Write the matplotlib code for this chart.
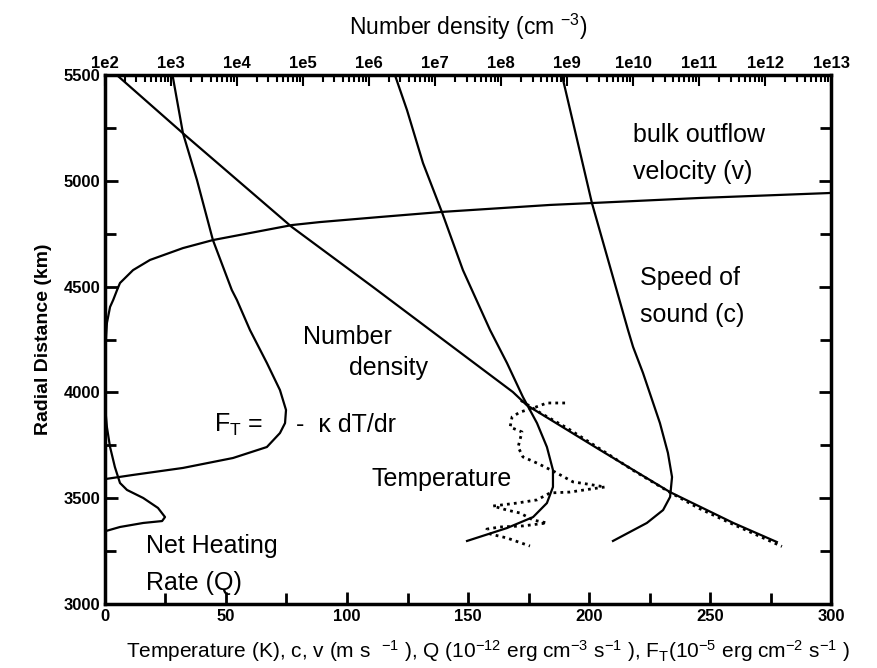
import matplotlib
matplotlib.use("Agg")
import matplotlib.pyplot as plt
from matplotlib import font_manager
import numpy as np
from matplotlib.ticker import MultipleLocator, LogLocator, FixedLocator, FixedFormatter, NullFormatter

names = set(f.name for f in font_manager.fontManager.ttflist)
narrow = 'Liberation Sans'
for cand in ['Liberation Sans Narrow', 'DejaVu Sans Condensed']:
    if cand in names:
        narrow = cand
        break

plt.rcParams['font.family'] = [narrow, 'Liberation Sans', 'DejaVu Sans']
plt.rcParams['mathtext.fontset'] = 'custom'
plt.rcParams['mathtext.rm'] = narrow
plt.rcParams['mathtext.it'] = narrow

# temperature model (K)
temp_x = [119.8, 124.8, 131.4, 139.2, 147.9, 159.1, 166.1, 172.7, 178.5, 182.6, 185.1, 185.1,
          182.6, 176.9, 166.1, 149.6]
temp_y = [5500, 5334, 5084, 4853, 4578, 4295, 4139, 3978, 3855, 3742, 3633, 3553,
          3477, 3411, 3359, 3298]

# temperature observations (dotted)
tobs_x = [190.1, 182.6, 176.9, 171.5, 168.2, 167.4, 172.3, 170.7, 172.7, 178.5, 185.9, 193.4,
          199.2, 206.6, 200.4, 192.1, 183.9, 178.5, 170.2, 160.3, 166.1, 171.5, 176.9, 182.6,
          172.7, 163.2, 157.8, 159.1, 166.1, 175.6]
tobs_y = [3950, 3950, 3926, 3907, 3884, 3836, 3813, 3742, 3695, 3666, 3624, 3577,
          3567, 3553, 3543, 3529, 3525, 3492, 3477, 3463, 3444, 3430, 3397, 3383,
          3369, 3364, 3354, 3331, 3312, 3274]

# speed of sound c (m/s)
c_x = [188.9, 189.3, 201.2, 216.1, 218.2, 222.3, 229.3, 232.6, 234.3, 233.5, 230.6, 223.9, 209.9]
c_y = [5500, 5476, 4895, 4295, 4215, 4092, 3855, 3714, 3600, 3506, 3444, 3383, 3298]

# bulk outflow velocity v (m/s)
v_x = [0.2, 0.5, 0.8, 2.1, 3.4, 5.0, 6.2, 11.6, 18.6, 32.2, 44.6, 77.3, 88.8, 113.6,
       139.2, 183.9, 201.2, 245.9, 298.7, 300]
v_y = [4200, 4271, 4328, 4404, 4437, 4484, 4517, 4578, 4626, 4682, 4720, 4791, 4805, 4829,
       4853, 4886, 4895, 4919, 4942, 4943]

# conductive heat flux F_T
ft_x = [27.9, 32.2, 38.0, 44.6, 52.4, 54.5, 59.9, 66.9, 72.3, 74.8, 74.4, 72.3, 66.9,
        52.9, 32.2, 11.6, 0.4]
ft_y = [5500, 5226, 5004, 4720, 4484, 4437, 4295, 4139, 4011, 3917, 3855, 3808, 3742,
        3690, 3643, 3610, 3591]

# net heating rate Q
q_x = [0.3, 0.8, 2.1, 4.1, 6.2, 9.1, 15.8, 21.9, 24.8, 23.6, 15.8, 6.2, 0.4]
q_y = [3900, 3836, 3742, 3647, 3572, 3539, 3501, 3454, 3411, 3392, 3383, 3364, 3345]

# number density (cm^-3), top axis
dens_x = [1.51e2, 1.62e3, 6.76e4, 1.15e6, 1.7e7, 1.51e8, 2.45e8, 3.16e9, 3.63e10, 3.31e11, 1.51e12]
dens_y = [5500, 5217, 4782, 4498, 4224, 4002, 3940, 3728, 3529, 3383, 3293]
dobs_x = [2.0e8, 4.0e8, 1.0e9, 3.2e9, 1.0e10, 3.6e10, 1.0e11, 3.2e11, 8.0e11, 1.8e12]
dobs_y = [3962, 3902, 3832, 3732, 3632, 3528, 3452, 3378, 3322, 3272]

top_ticks = [1e2, 1e3, 1e4, 1e5, 1e6, 1e7, 1e8, 1e9, 1e10, 1e11, 1e12, 1e13]
top_labels = ['1e2', '1e3', '1e4', '1e5', '1e6', '1e7', '1e8', '1e9', '1e10', '1e11', '1e12', '1e13']

fig = plt.figure(figsize=(8.77, 6.68), dpi=100)
ax = fig.add_axes([0.1197, 0.0958, 0.8279, 0.7919])

lw = 1.6
ax.plot(temp_x, temp_y, color='black', lw=lw)
ax.plot(tobs_x, tobs_y, color='black', lw=2, ls=(0, (1, 1.5)))
ax.plot(c_x, c_y, color='black', lw=lw)
ax.plot(v_x, v_y, color='black', lw=lw)
ax.plot(ft_x, ft_y, color='black', lw=lw)
ax.plot(q_x, q_y, color='black', lw=lw)

ax.set_xlim(0, 300)
ax.set_ylim(3000, 5500)
ax.xaxis.set_major_locator(MultipleLocator(50))
ax.xaxis.set_minor_locator(MultipleLocator(25))
ax.yaxis.set_major_locator(MultipleLocator(500))
ax.yaxis.set_minor_locator(MultipleLocator(250))
ax.tick_params(which='both', direction='in', right=True, top=False, width=2,
               labelsize=12)
ax.tick_params(which='major', length=9)
ax.tick_params(which='minor', length=8)
for lab in ax.get_xticklabels() + ax.get_yticklabels():
    lab.set_fontweight('bold')
for s in ax.spines.values():
    s.set_linewidth(2.5)

ax2 = ax.twiny()
ax2.set_xscale('log')
ax2.set_xlim(1e2, 1e13)
ax2.plot(dens_x, dens_y, color='black', lw=lw)
ax2.plot(dobs_x, dobs_y, color='black', lw=2, ls=(0, (1, 1.5)))
ax2.xaxis.set_major_locator(FixedLocator(top_ticks))
ax2.xaxis.set_major_formatter(FixedFormatter(top_labels))
ax2.xaxis.set_minor_locator(LogLocator(base=10, subs=np.arange(2, 10), numticks=50))
ax2.xaxis.set_minor_formatter(NullFormatter())
ax2.tick_params(which='both', direction='in', width=1.5, labelsize=12, pad=3)
ax2.tick_params(which='major', length=8)
ax2.tick_params(which='minor', length=5)
for lab in ax2.get_xticklabels():
    lab.set_fontweight('bold')
ax2.set_ylim(3000, 5500)

ax.set_ylabel('Radial Distance (km)', fontsize=14, fontweight='bold', labelpad=8,
              family=['Liberation Sans', 'DejaVu Sans'])
ax.set_xlabel('Temperature (K), c, v (m s  $^{-1}$ ), Q (10$^{-12}$ erg cm$^{-3}$ s$^{-1}$ ), '
              'F$_\\mathrm{T}$(10$^{-5}$ erg cm$^{-2}$ s$^{-1}$ )', fontsize=15, labelpad=10)
ax.xaxis.label.set_x(0.527)
ax2.set_xlabel('Number density (cm $^{-3}$)', fontsize=16.5, labelpad=15)

tf = dict(fontsize=18, family=['Liberation Sans', 'DejaVu Sans'], va='center', ha='left')
ax.text(218, 5216, 'bulk outflow', **tf)
ax.text(218, 5041, 'velocity (v)', **tf)
ax.text(221, 4541, 'Speed of', **tf)
ax.text(221, 4366, 'sound (c)', **tf)
ax.text(82, 4262, 'Number', **tf)
ax.text(101, 4115, 'density', **tf)
ax.text(45, 3848, 'F$_\\mathrm{T}$ =', **tf)
ax.text(79, 3848, '-  \u03ba dT/dr', **tf)
ax.text(110, 3592, 'Temperature', **tf)
ax.text(17, 3274, 'Net Heating', **tf)
ax.text(17, 3099, 'Rate (Q)', **tf)

fig.savefig('out.png', dpi=100)
